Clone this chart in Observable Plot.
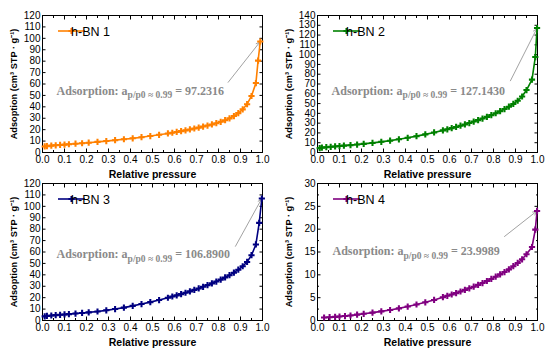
<!DOCTYPE html>
<html><head><meta charset="utf-8">
<script src="https://cdn.jsdelivr.net/npm/d3@7"></script>
<script src="https://cdn.jsdelivr.net/npm/@observablehq/plot@0.6"></script>
<style>
html,body{margin:0;padding:0;background:#fff;}
#chart{position:relative;width:550px;height:352px;overflow:hidden;background:#fff;}
.panel{position:absolute;width:275px;height:176px;}
</style></head><body><div id="chart"></div>
<script>
// ---------- data ----------
const samples = ["h-BN 1", "h-BN 2", "h-BN 3", "h-BN 4"];
const finalValues = ["97.2316", "127.1430", "106.8900", "23.9989"];

const pressureBN1 = [0.01,0.02,0.04,0.06,0.08,0.10,0.12,0.15,0.18,0.21,0.25,0.29,0.33,0.37,0.41,0.45,0.49,0.53,0.57,0.59,0.61,0.63,0.65,0.67,0.69,0.71,0.73,0.75,0.77,0.79,0.81,0.83,0.85,0.87,0.89,0.91,0.93,0.95,0.97,0.98,0.99];
const adsorptionBN1 = [5.3,5.6,6.0,6.3,6.6,6.9,7.2,7.7,8.1,8.6,9.3,10.0,10.8,11.6,12.4,13.4,14.4,15.5,16.7,17.3,18.0,18.7,19.4,20.2,21.0,21.8,22.7,23.6,24.6,25.7,26.9,28.3,29.9,31.9,34.5,37.8,42.3,49.5,60.8,80.5,97.2316];

const pressureBN2 = [0.01,0.02,0.04,0.06,0.08,0.10,0.12,0.15,0.18,0.21,0.25,0.29,0.33,0.37,0.41,0.45,0.49,0.53,0.57,0.59,0.61,0.63,0.65,0.67,0.69,0.71,0.73,0.75,0.77,0.79,0.81,0.83,0.85,0.87,0.89,0.91,0.93,0.95,0.975,0.99,0.998];
const adsorptionBN2 = [4.5,5.0,5.4,5.8,6.2,6.6,7.0,7.5,8.1,8.8,9.8,10.9,12.1,13.5,15.0,16.7,18.5,20.5,22.6,23.7,24.9,26.1,27.4,28.7,30.1,31.6,33.1,34.7,36.4,38.2,40.1,42.2,44.4,46.8,49.6,52.9,57.2,63.8,74.5,97.5,127.143];

const pressureBN3 = [0.01,0.02,0.04,0.06,0.08,0.10,0.12,0.15,0.18,0.21,0.25,0.29,0.33,0.37,0.41,0.45,0.49,0.53,0.57,0.59,0.61,0.63,0.65,0.67,0.69,0.71,0.73,0.75,0.77,0.79,0.81,0.83,0.85,0.87,0.89,0.91,0.93,0.95,0.97,0.985,0.997];
const adsorptionBN3 = [3.6,4.0,4.4,4.7,5.0,5.3,5.6,6.1,6.6,7.1,7.9,8.9,10.0,11.3,12.8,14.4,16.1,17.9,19.9,21.0,22.0,23.1,24.3,25.5,26.8,28.1,29.5,31.0,32.5,34.1,35.8,37.7,39.7,41.9,44.5,47.5,51.3,57.2,66.6,85.5,106.89];

const pressureBN4 = [0.03,0.055,0.08,0.10,0.125,0.15,0.18,0.21,0.25,0.29,0.33,0.37,0.41,0.45,0.49,0.53,0.57,0.59,0.61,0.63,0.65,0.67,0.69,0.71,0.73,0.75,0.77,0.79,0.81,0.83,0.85,0.87,0.89,0.91,0.93,0.95,0.975,0.99,0.998];
const adsorptionBN4 = [0.65,0.72,0.8,0.88,0.97,1.1,1.28,1.47,1.72,2.0,2.3,2.65,3.05,3.5,3.98,4.5,5.1,5.4,5.7,6.0,6.35,6.7,7.05,7.4,7.8,8.2,8.65,9.1,9.6,10.1,10.6,11.2,11.9,12.6,13.4,14.5,16.1,19.9,23.9989];

const xTickValues = [0,0.1,0.2,0.3,0.4,0.5,0.6,0.7,0.8,0.9,1.0];
const xMinorValues = [0.05,0.15,0.25,0.35,0.45,0.55,0.65,0.75,0.85,0.95];
const yMaxes = [120, 140, 120, 30];
const yLabelSteps = [10, 10, 10, 5];
const yMinorSteps = [10, 10, 10, 2.5];

// ---------- styling / layout ----------
const colors = ["#ff8000", "#008000", "#000080", "#800080"];
const panelLeft = [0, 275, 0, 275];
const panelTop = [0, 0, 176, 176];
// annotation text centre and arrow tail, in data units of each panel
const labelAt = [[0.064, 54], [0.064, 63], [0.064, 58.1], [0.068, 15.1]];
const arrowFrom = [[0.844, 61.5], [0.877, 73.3], [0.877, 65], [0.85, 18.4]];

const series = [
  {p: pressureBN1, a: adsorptionBN1},
  {p: pressureBN2, a: adsorptionBN2},
  {p: pressureBN3, a: adsorptionBN3},
  {p: pressureBN4, a: adsorptionBN4}
];

const sans = "'Liberation Sans', Arial, sans-serif";
const serif = "'Liberation Serif', 'Times New Roman', serif";
const markerR = 2.6;

function makePanel(i) {
  const color = colors[i];
  const data = series[i].p.map((p, j) => ({p, a: series[i].a[j]}));
  const last = data[data.length - 1];
  const isTop = i < 2;
  const mt = isTop ? 15 : 7, mb = isTop ? 24 : 32, ml = 42, mr = 13;
  const yTicks = d3.range(0, yMaxes[i] + 1e-9, yLabelSteps[i]);
  const yMinor = d3.range(0, yMaxes[i] + 1e-9, yMinorSteps[i]).filter(v => !yTicks.some(t => Math.abs(t - v) < 1e-9));
  const blank = () => "";
  const marks = [
    Plot.axisX({anchor: "bottom", ticks: xTickValues, tickSize: -3.5, tickPadding: 7, tickFormat: d => d.toFixed(1), label: null, fontSize: 10}),
    Plot.axisX({anchor: "bottom", ticks: xMinorValues, tickSize: -2, tickFormat: blank, label: null}),
    Plot.axisX({anchor: "top", ticks: xTickValues, tickSize: -3.5, tickFormat: blank, label: null}),
    Plot.axisX({anchor: "top", ticks: xMinorValues, tickSize: -2, tickFormat: blank, label: null}),
    Plot.axisY({anchor: "left", ticks: yTicks, tickSize: -3.5, tickPadding: 5.5, tickFormat: d => String(d), label: null, fontSize: 10}),
    Plot.axisY({anchor: "right", ticks: yTicks, tickSize: -3.5, tickFormat: blank, label: null})
  ];
  if (yMinor.length) {
    marks.push(Plot.axisY({anchor: "left", ticks: yMinor, tickSize: -2, tickFormat: blank, label: null}));
    marks.push(Plot.axisY({anchor: "right", ticks: yMinor, tickSize: -2, tickFormat: blank, label: null}));
  }
  marks.push(
    Plot.frame({stroke: "#000", strokeWidth: 1}),
    Plot.arrow([{x1: arrowFrom[i][0], y1: arrowFrom[i][1], x2: last.p, y2: last.a}], {
      x1: "x1", y1: "y1", x2: "x2", y2: "y2", stroke: "#8a8a8a", strokeWidth: 0.8, headLength: 7, insetEnd: 1
    }),
    Plot.line(data, {x: "p", y: "a", stroke: color, strokeWidth: 1.6}),
    Plot.dot(data, {x: "p", y: "a", symbol: "cross", r: markerR, fill: color, stroke: "none"}),
    Plot.text([{x: labelAt[i][0], y: labelAt[i][1], t: "Adsorption: a|p/p0 \u2248 0.99| = " + finalValues[i]}], {
      x: "x", y: "y", text: "t", textAnchor: "start", lineAnchor: "middle",
      fontFamily: serif, fontWeight: "bold", fontSize: 12, fill: "#8a8a8a"
    }),
    Plot.text(["Relative pressure"], {frameAnchor: "bottom", dy: 22, textAnchor: "middle", lineAnchor: "middle", fontWeight: "bold", fontSize: 10.5, fill: "#000"}),
    Plot.text(["Adsoption (cm\u00b3 STP \u00b7 g\u207b\u00b9)"], {frameAnchor: "left", dx: -28, rotate: -90, textAnchor: "middle", lineAnchor: "middle", fontWeight: "bold", fontSize: 9.2, fill: "#000"})
  );
  const svg = Plot.plot({
    width: 275, height: 176,
    marginTop: mt, marginBottom: mb, marginLeft: ml, marginRight: mr,
    style: {fontFamily: sans, fontSize: "10px", background: "none", overflow: "visible", color: "#000"},
    x: {domain: [0, 1]},
    y: {domain: [0, yMaxes[i]]},
    marks
  });
  const s = d3.select(svg);
  // subscript in annotation
  s.selectAll("text").each(function () {
    const t = this.textContent;
    if (t.includes("|")) {
      const [a, b, c] = t.split("|");
      const el = d3.select(this);
      el.text(null);
      el.append("tspan").text(a);
      el.append("tspan").attr("dy", "3.5").attr("font-size", 9.5).text(b);
      el.append("tspan").attr("dy", "-3.5").text(c);
    }
  });
  // legend: line + marker + name
  const lx = ml + 16, ly = mt + 16;
  const g = s.append("g");
  g.append("line").attr("x1", lx).attr("x2", lx + 27).attr("y1", ly).attr("y2", ly)
    .attr("stroke", color).attr("stroke-width", 1.6);
  g.append("path").attr("transform", `translate(${lx + 13.5},${ly})`)
    .attr("d", d3.symbol(d3.symbolCross, markerR * markerR * Math.PI)()).attr("fill", color);
  g.append("text").attr("x", lx + 32.5).attr("y", ly).attr("dy", "0.36em")
    .attr("font-size", 12.5).attr("font-family", sans).attr("fill", "#000").text(samples[i]);
  return svg;
}

const chart = document.getElementById("chart");
for (let i = 0; i < 4; i++) {
  const div = document.createElement("div");
  div.className = "panel";
  div.style.left = panelLeft[i] + "px";
  div.style.top = panelTop[i] + "px";
  div.appendChild(makePanel(i));
  chart.appendChild(div);
}
</script></body></html>
